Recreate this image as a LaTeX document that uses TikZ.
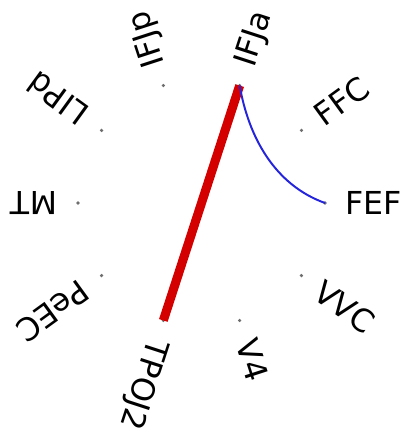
\documentclass[tikz,border=0pt]{standalone}
\usepackage{fontspec}
\setmainfont{DejaVu Sans}
\usepackage{xcolor}
\definecolor{linkred}{HTML}{D40000}
\definecolor{linkblue}{HTML}{2424DC}
\definecolor{dotgray}{HTML}{6E6E6E}
\tikzset{
  area/.style={circle,fill=dotgray,inner sep=0pt,minimum size=2.5pt},
  arealabel/.style={anchor=west,inner sep=0pt,font=\fontsize{22.5}{27}\selectfont}
}

\begin{document}
\begin{tikzpicture}[x=0.025cm,y=0.025cm]
\useasboundingbox (-201.5,-231) rectangle (207.5,203);
\foreach \name/\ang in {FEF/0,FFC/36,IFJa/72,IFJp/108,LIPd/144,MT/180,PeEC/216,TPOJ2/252,V4/288,VVC/324} {
  \node[area] (\name) at (\ang:123.5) {};
  \node[arealabel,rotate=\ang] (\name-lbl) at (\ang:144) {\name};
}
\draw[linkred,line width=6.4pt] (IFJa.center) -- (TPOJ2.center);
\draw[linkblue,line width=1.4pt] (IFJa.center) .. controls +(9,-52) and +(-50,18) .. (FEF.center);
\end{tikzpicture}
\end{document}
